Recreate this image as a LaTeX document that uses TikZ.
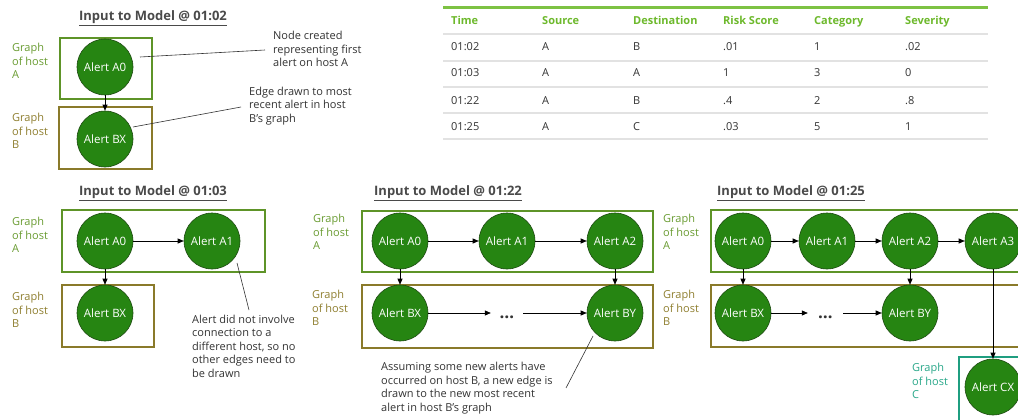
\documentclass[tikz,border=0pt]{standalone}
\usepackage{fontspec}
\setmainfont{Open Sans}
\usetikzlibrary{arrows.meta}
\definecolor{alertfill}{HTML}{268512}
\definecolor{alertdraw}{HTML}{1E4A12}
\definecolor{hostA}{HTML}{5E9428}
\definecolor{hostAtxt}{HTML}{6A9C32}
\definecolor{hostB}{HTML}{8A7A2A}
\definecolor{hostBtxt}{HTML}{8F7F30}
\definecolor{hostC}{HTML}{1F9E80}
\definecolor{hostCtxt}{HTML}{2AA88A}
\definecolor{tabgreen}{HTML}{6DB92C}
\definecolor{tabline}{HTML}{7DC243}
\definecolor{rowline}{HTML}{E2E2E2}
\definecolor{txt}{HTML}{333333}
\definecolor{titlec}{HTML}{4A4A4A}
\newcommand\fsz{\fontsize{11}{13.5}\selectfont}
\newcommand\fttl{\fontsize{13}{15}\selectfont\bfseries}
\tikzset{
  alert/.style={circle, minimum size=56pt, inner sep=0pt, fill=alertfill, draw=alertdraw, line width=0.6pt, text=white, font=\fontsize{11.5}{13.5}\selectfont},
  boxA/.style={draw=hostA, line width=1.2pt},
  boxB/.style={draw=hostB, line width=1.2pt},
  boxC/.style={draw=hostC, line width=1.2pt},
  lbl/.style={anchor=west, align=left, font=\fsz, inner sep=0pt},
  lblA/.style={lbl, text=hostAtxt},
  lblB/.style={lbl, text=hostBtxt},
  lblC/.style={lbl, text=hostCtxt},
  note/.style={anchor=west, align=left, text=txt, font=\fsz, inner sep=0pt},
  ttl/.style={anchor=base, font=\fttl, text=titlec, inner sep=0pt},
  edge/.style={-{Triangle[length=6pt,width=5pt]}, line width=0.7pt, black},
  callout/.style={line width=0.6pt, draw=txt},
  dots/.style={inner sep=0pt, font=\fontsize{17}{17}\selectfont\bfseries, text=txt},
  th/.style={anchor=base west, font=\fsz\bfseries, text=tabgreen, inner sep=0pt},
  td/.style={anchor=base west, font=\fsz, text=txt, inner sep=0pt},
}
\begin{document}
\begin{tikzpicture}[x=1pt, y=-1pt]
\useasboundingbox (0,0) rectangle (1018,420);
\clip (0,0) rectangle (1018,420);
\fill[white] (0,0) rectangle (1018,420);

% ---------- Table ----------
\draw[tabline, line width=3pt] (443,8) -- (988,8);
\foreach \yy in {34,61,87,113,139}{\draw[rowline, line width=1.5pt] (443,\yy) -- (988,\yy);}
\node[th] (h1) at (451,25) {Time};
\node[th] (h2) at (542,25) {Source};
\node[th] (h3) at (633,25) {Destination};
\node[th] (h4) at (723,25) {Risk Score};
\node[th] (h5) at (814,25) {Category};
\node[th] (h6) at (905,25) {Severity};
\node[td] (r1c1) at (451,51) {01:02}; \node[td] (r1c2) at (542,51) {A}; \node[td] (r1c3) at (633,51) {B};
\node[td] (r1c4) at (723,51) {.01}; \node[td] (r1c5) at (814,51) {1}; \node[td] (r1c6) at (905,51) {.02};
\node[td] (r2c1) at (451,77) {01:03}; \node[td] (r2c2) at (542,77) {A}; \node[td] (r2c3) at (633,77) {A};
\node[td] (r2c4) at (723,77) {1}; \node[td] (r2c5) at (814,77) {3}; \node[td] (r2c6) at (905,77) {0};
\node[td] (r3c1) at (451,104) {01:22}; \node[td] (r3c2) at (542,104) {A}; \node[td] (r3c3) at (633,104) {B};
\node[td] (r3c4) at (723,104) {.4}; \node[td] (r3c5) at (814,104) {2}; \node[td] (r3c6) at (905,104) {.8};
\node[td] (r4c1) at (451,131) {01:25}; \node[td] (r4c2) at (542,131) {A}; \node[td] (r4c3) at (633,131) {C};
\node[td] (r4c4) at (723,131) {.03}; \node[td] (r4c5) at (814,131) {5}; \node[td] (r4c6) at (905,131) {1};

% ---------- Panel 1 ----------
\node[ttl] (t1) at (153,20.5) {\underline{Input to Model @ 01:02}};
\draw[boxA] (60,38) rectangle (152,99);
\draw[boxB] (59,107) rectangle (152,169);
\node[alert] (p1a0) at (105,67) {Alert A0};
\node[alert] (p1bx) at (105,139) {Alert BX};
\draw[edge] (p1a0) -- (p1bx);
\node[lblA] (p1la) at (12,61) {Graph\\of host\\A};
\node[lblB] (p1lb) at (12,131) {Graph\\of host\\B};
\node[note] (p1n1) at (273,49) {Node created\\representing first\\alert on host A};
\node[note] (p1n2) at (249,106) {Edge drawn to most\\recent alert in host\\B’s graph};
\coordinate (p1c1s) at (140,57); \coordinate (p1c1e) at (265,50);
\coordinate (p1c2s) at (133,127); \coordinate (p1c2e) at (241,107);
\draw[callout] (p1c1s) -- (p1c1e);
\draw[callout] (p1c2s) -- (p1c2e);

% ---------- Panel 2 ----------
\node[ttl] (t2) at (153,195.5) {\underline{Input to Model @ 01:03}};
\draw[boxA] (62,210) rectangle (265,272);
\draw[boxB] (62,285) rectangle (154,347);
\node[alert] (p2a0) at (105,241) {Alert A0};
\node[alert] (p2a1) at (212,241) {Alert A1};
\node[alert] (p2bx) at (105,313) {Alert BX};
\draw[edge] (p2a0) -- (p2a1);
\draw[edge] (p2a0) -- (p2bx);
\node[lblA] (p2la) at (12,235) {Graph\\of host\\A};
\node[lblB] (p2lb) at (12,310) {Graph\\of host\\B};
\node[note] (p2n) at (192,346) {Alert did not involve\\connection to a\\different host, so no\\other edges need to\\be drawn};
\coordinate (p2cs) at (237,263); \coordinate (p2ce) at (249,310);
\draw[callout] (p2cs) -- (p2ce);

% ---------- Panel 3 ----------
\node[ttl] (t3) at (448,195.5) {\underline{Input to Model @ 01:22}};
\draw[boxA] (362,211) rectangle (653,272);
\draw[boxB] (362,285) rectangle (653,348);
\node[alert] (p3a0) at (400,241) {Alert A0};
\node[alert] (p3a1) at (507,241) {Alert A1};
\node[alert] (p3a2) at (615,241) {Alert A2};
\node[alert] (p3bx) at (400,313) {Alert BX};
\node[alert] (p3by) at (615,313) {Alert BY};
\node[dots, minimum width=32pt] (p3d) at (507,317) {…};
\draw[edge] (p3a0) -- (p3a1);
\draw[edge] (p3a1) -- (p3a2);
\draw[edge] (p3a0) -- (p3bx);
\draw[edge] (p3a2) -- (p3by);
\draw[edge] (p3bx) -- (p3bx -| p3d.west);
\draw[edge] (p3by -| p3d.east) -- (p3by);
\node[lblA] (p3la) at (313,232) {Graph\\of host\\A};
\node[lblB] (p3lb) at (312,308) {Graph\\of host\\B};
\node[note] (p3n) at (381,388) {Assuming some new alerts have\\occurred on host B, a new edge is\\drawn to the new most recent\\alert in host B’s graph};
\coordinate (p3cs) at (593,336); \coordinate (p3ce) at (566,388);
\draw[callout] (p3cs) -- (p3ce);

% ---------- Panel 4 ----------
\node[ttl] (t4) at (791,195.5) {\underline{Input to Model @ 01:25}};
\draw[boxA] (711,210) rectangle (1030,272);
\draw[boxB] (711,285) rectangle (1030,347);
\draw[boxC] (959,357) rectangle (1030,430);
\node[alert] (p4a0) at (743,241) {Alert A0};
\node[alert] (p4a1) at (827,241) {Alert A1};
\node[alert] (p4a2) at (910,241) {Alert A2};
\node[alert] (p4a3) at (993,241) {Alert A3};
\node[alert] (p4bx) at (743,313) {Alert BX};
\node[alert] (p4by) at (910,313) {Alert BY};
\node[alert] (p4cx) at (993,387) {Alert CX};
\node[dots, minimum width=35pt] (p4d) at (825.5,317) {…};
\draw[edge] (p4a0) -- (p4a1);
\draw[edge] (p4a1) -- (p4a2);
\draw[edge] (p4a2) -- (p4a3);
\draw[edge] (p4a0) -- (p4bx);
\draw[edge] (p4a2) -- (p4by);
\draw[edge] (p4a3) -- (p4cx);
\draw[edge] (p4bx) -- (p4bx -| p4d.west);
\draw[edge] (p4by -| p4d.east) -- (p4by);
\node[lblA] (p4la) at (663,232) {Graph\\of host\\A};
\node[lblB] (p4lb) at (663,308) {Graph\\of host\\B};
\node[lblC] (p4lc) at (912,381) {Graph\\of host\\C};
\end{tikzpicture}
\end{document}
